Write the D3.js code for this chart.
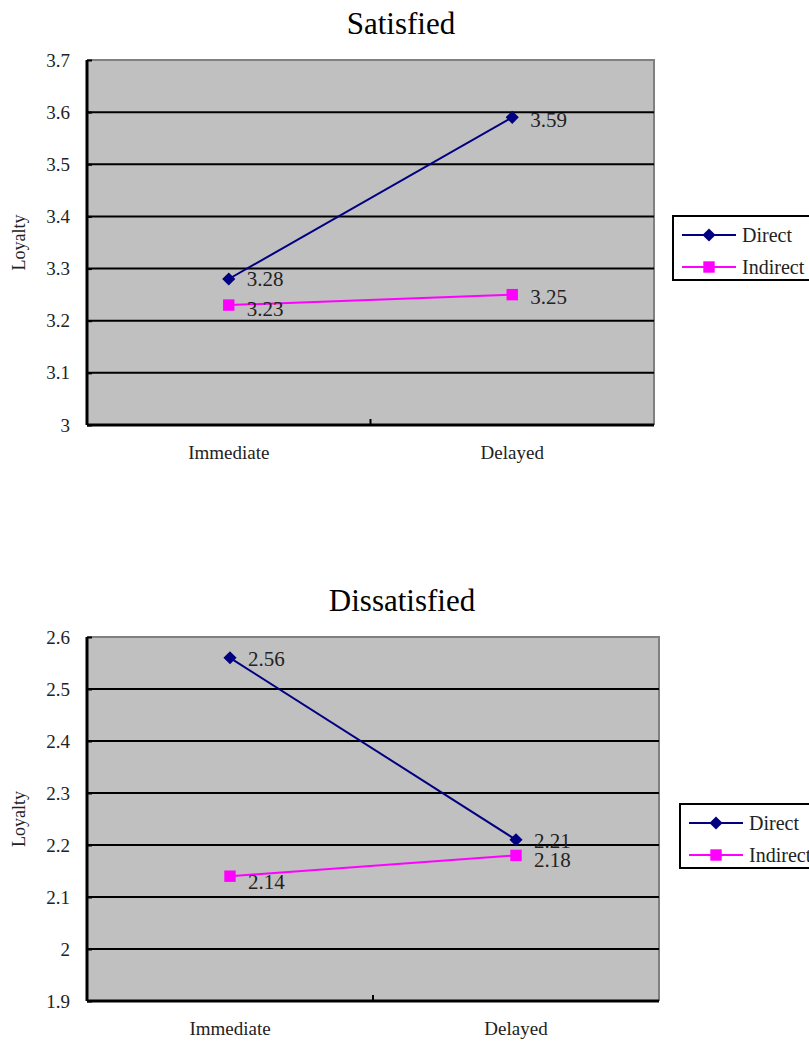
<!DOCTYPE html>
<html>
<head>
<meta charset="utf-8">
<script src="https://d3js.org/d3.v7.min.js"></script>
</head>
<body style="margin:0;background:#fff">
<svg id="chart" width="809" height="1048" font-family="Liberation Serif"></svg>
<script>
// Loyalty by feedback timing, for satisfied and dissatisfied customers
const categories = ["Immediate", "Delayed"];
const seriesNames = ["Direct", "Indirect"];

const satisfiedDirect = [3.28, 3.59];
const satisfiedIndirect = [3.23, 3.25];
const satisfiedTicks = [3, 3.1, 3.2, 3.3, 3.4, 3.5, 3.6, 3.7];

const dissatisfiedDirect = [2.56, 2.21];
const dissatisfiedIndirect = [2.14, 2.18];
const dissatisfiedTicks = [1.9, 2, 2.1, 2.2, 2.3, 2.4, 2.5, 2.6];

const colors = { Direct: "#000080", Indirect: "#ff00ff" };
const FONT = "Liberation Serif";

const svg = d3.select("#chart");

function markerFor(name) {
  return name === "Direct"
    ? d3.symbol().type(d3.symbolDiamond2).size(110)
    : d3.symbol().type(d3.symbolSquare).size(130);
}

function drawPanel(cfg) {
  const g = svg.append("g");
  const x = d3.scaleBand().domain(categories).range([cfg.left, cfg.right]);
  const y = d3.scaleLinear().domain(d3.extent(cfg.ticks)).range([cfg.bottom, cfg.top]);

  // Plot background
  g.append("rect")
    .attr("x", cfg.left).attr("y", cfg.top)
    .attr("width", cfg.right - cfg.left).attr("height", cfg.bottom - cfg.top)
    .attr("fill", "#c0c0c0");

  // Top and right frame in gray
  g.append("path")
    .attr("d", `M${cfg.left},${cfg.top}H${cfg.right}V${cfg.bottom}`)
    .attr("fill", "none").attr("stroke", "#808080").attr("stroke-width", 2);

  // Horizontal gridlines
  g.selectAll(".grid").data(cfg.ticks.slice(1, -1)).join("line")
    .attr("x1", cfg.left).attr("x2", cfg.right)
    .attr("y1", d => y(d)).attr("y2", d => y(d))
    .attr("stroke", "#000").attr("stroke-width", 2);

  // Y axis
  const yAxis = d3.axisLeft(y).tickValues(cfg.ticks).tickSize(5).tickPadding(12)
    .tickFormat(d3.format("~g"));
  const ya = g.append("g").attr("transform", `translate(${cfg.left},0)`).call(yAxis);
  ya.attr("font-family", FONT).attr("font-size", 19);
  ya.select(".domain").attr("stroke-width", 3).attr("d", `M0,${cfg.top}V${cfg.bottom}`);
  ya.selectAll(".tick line").attr("stroke-width", 2).attr("x1", 0).attr("x2", 5);
  ya.selectAll(".tick text").attr("font-family", FONT).attr("font-size", 19).attr("fill", "#222");

  // X axis
  const xa = g.append("g").attr("transform", `translate(0,${cfg.bottom})`)
    .call(d3.axisBottom(x).tickSize(0).tickPadding(21));
  xa.attr("font-family", FONT).attr("font-size", 19);
  xa.select(".domain").attr("stroke-width", 3).attr("d", `M${cfg.left},0H${cfg.right}`);
  xa.selectAll(".tick text").attr("font-family", FONT).attr("font-size", 19).attr("fill", "#222");
  // Divider tick between categories
  g.append("line")
    .attr("x1", x("Delayed")).attr("x2", x("Delayed"))
    .attr("y1", cfg.bottom).attr("y2", cfg.bottom - 6)
    .attr("stroke", "#000").attr("stroke-width", 2);

  // Title
  g.append("text").attr("x", cfg.titleX).attr("y", cfg.top - 26)
    .attr("text-anchor", "middle").attr("font-family", FONT).attr("font-size", 31)
    .attr("fill", "#000").text(cfg.title);

  // Y axis label
  g.append("text")
    .attr("transform", `translate(25,${(cfg.top + cfg.bottom) / 2}) rotate(-90)`)
    .attr("text-anchor", "middle").attr("font-family", FONT).attr("font-size", 18)
    .attr("fill", "#222").text("Loyalty");

  const cx = c => x(c) + x.bandwidth() / 2;
  const line = d3.line().x((d, i) => cx(categories[i])).y(d => y(d));

  const series = [
    { name: "Direct", values: cfg.direct },
    { name: "Indirect", values: cfg.indirect }
  ];

  series.forEach(s => {
    g.append("path").datum(s.values)
      .attr("d", line).attr("fill", "none")
      .attr("stroke", colors[s.name]).attr("stroke-width", 2);

    g.selectAll(null).data(s.values).join("path")
      .attr("transform", (d, i) => `translate(${cx(categories[i])},${y(d)})`)
      .attr("d", markerFor(s.name)).attr("fill", colors[s.name]);

    g.selectAll(null).data(s.values).join("text")
      .attr("x", (d, i) => cx(categories[i]) + 18)
      .attr("y", (d, i) => y(d) + (cfg.labelShift[s.name][i] || 0))
      .attr("dy", "0.35em").attr("font-family", FONT).attr("font-size", 21)
      .attr("fill", "#222")
      .text(d => d3.format(".2f")(d));
  });

  // Legend
  const lg = g.append("g").attr("transform", `translate(${cfg.legendX},${cfg.legendY})`);
  lg.append("rect").attr("x", 0).attr("y", 0).attr("width", 150).attr("height", 64)
    .attr("fill", "#fff").attr("stroke", "#000").attr("stroke-width", 2);
  seriesNames.forEach((n, i) => {
    const ly = 19 + i * 32;
    lg.append("line").attr("x1", 9).attr("x2", 63).attr("y1", ly).attr("y2", ly)
      .attr("stroke", colors[n]).attr("stroke-width", 2);
    lg.append("path").attr("transform", `translate(36,${ly})`)
      .attr("d", markerFor(n)).attr("fill", colors[n]);
    lg.append("text").attr("x", 69).attr("y", ly).attr("dy", "0.35em")
      .attr("font-family", FONT).attr("font-size", 20).attr("fill", "#222").text(n);
  });
}

drawPanel({
  title: "Satisfied", titleX: 401,
  left: 87, right: 654, top: 60, bottom: 425,
  ticks: satisfiedTicks,
  direct: satisfiedDirect, indirect: satisfiedIndirect,
  labelShift: { Direct: [0, 2], Indirect: [4, 2] },
  legendX: 673, legendY: 216
});

drawPanel({
  title: "Dissatisfied", titleX: 402,
  left: 87, right: 659, top: 637, bottom: 1001,
  ticks: dissatisfiedTicks,
  direct: dissatisfiedDirect, indirect: dissatisfiedIndirect,
  labelShift: { Direct: [1, 1], Indirect: [5, 4] },
  legendX: 680, legendY: 804
});
</script>
</body>
</html>
